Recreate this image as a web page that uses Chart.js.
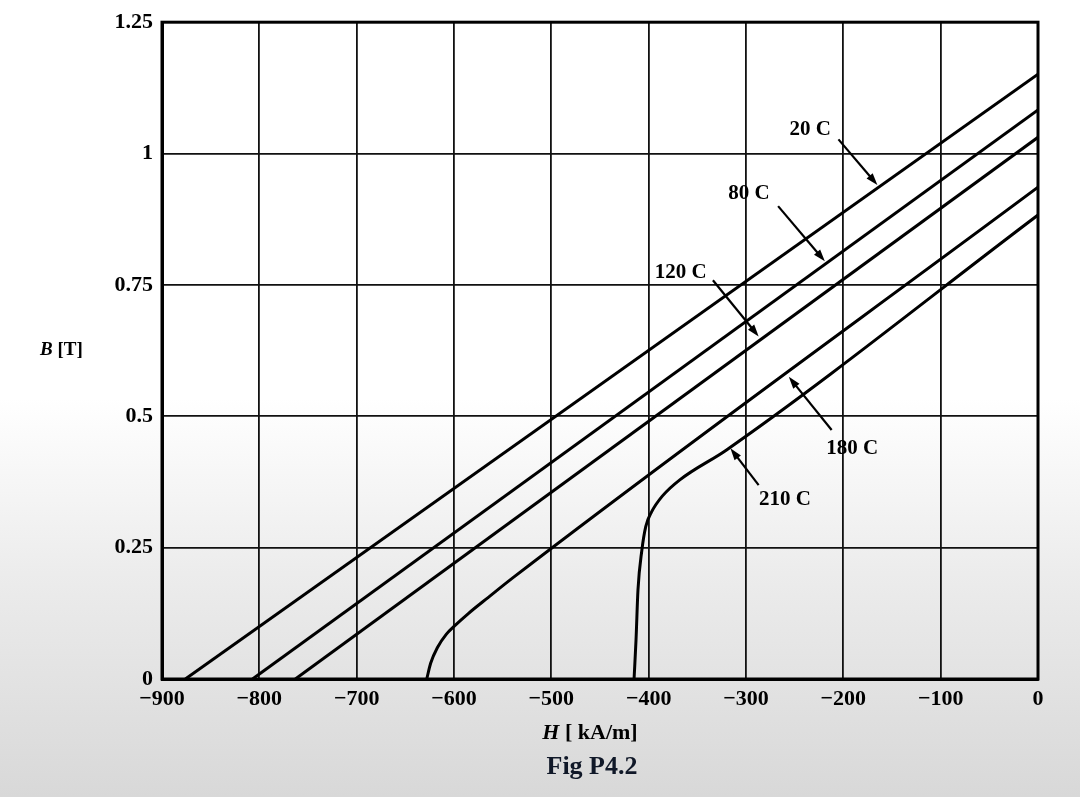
<!DOCTYPE html>
<html>
<head>
<meta charset="utf-8">
<script src="https://cdn.jsdelivr.net/npm/chart.js@4"></script>
<style>
  html, body { margin: 0; padding: 0; }
  body {
    width: 1080px; height: 797px; overflow: hidden;
    background: linear-gradient(to bottom, #ffffff 0%, #ffffff 50%, #ececec 72%, #d8d8d8 100%);
  }
  canvas { display: block; }
</style>
</head>
<body>
<canvas id="bh-chart" width="1080" height="797"></canvas>
<script>
// axis ticks
const xTicks = [-900, -800, -700, -600, -500, -400, -300, -200, -100, 0];
const xTickLabels = ['\u2212900', '\u2212800', '\u2212700', '\u2212600', '\u2212500', '\u2212400', '\u2212300', '\u2212200', '\u2212100', '0'];
const yTicks = [0, 0.25, 0.5, 0.75, 1, 1.25];
const yTickLabels = ['0', '0.25', '0.5', '0.75', '1', '1.25'];

// demagnetization curves, H in kA/m, B in T
const h20 = [-876, 0];
const b20 = [0, 1.151];
const h80 = [-807, 0];
const b80 = [0, 1.083];
const h120 = [-763, 0];
const b120 = [0, 1.031];
const h180 = [-628, -624, -617, -608, -600, -585, -565, -540, 0];
const b180 = [0, 0.03, 0.06, 0.085, 0.1, 0.125, 0.155, 0.192, 0.936];
const h210 = [-415, -413, -411, -407, -403, -397, -386, -368, -320, 0];
const b210 = [0, 0.074, 0.169, 0.245, 0.29, 0.318, 0.348, 0.379, 0.436, 0.883];

// curve labels and arrows (data coords)
const labelText = ['20 C', '80 C', '120 C', '180 C', '210 C'];
const labelH = [-234, -297, -367, -191, -260];
const labelB = [1.046, 0.923, 0.774, 0.438, 0.342];
const arrowFromH = [-205, -267, -334, -212, -287];
const arrowFromB = [1.027, 0.9, 0.759, 0.474, 0.369];
const arrowToH = [-165, -219, -287, -256, -316];
const arrowToB = [0.94, 0.795, 0.652, 0.575, 0.439];

const serif = '"Liberation Serif", "DejaVu Serif", serif';

function toPoints(hs, bs) {
  return hs.map((h, i) => ({ x: h, y: bs[i] }));
}

function curve(hs, bs, smooth) {
  return {
    data: toPoints(hs, bs),
    showLine: true,
    borderColor: '#000',
    borderWidth: 3,
    pointRadius: 0,
    cubicInterpolationMode: smooth ? 'monotone' : 'default',
    tension: 0,
  };
}

const extras = {
  id: 'extras',
  beforeDatasetsDraw(chart) {
    const { ctx, chartArea: a } = chart;
    ctx.save();
    ctx.strokeStyle = '#000';
    ctx.lineWidth = 3;
    ctx.strokeRect(a.left, a.top, a.right - a.left, a.bottom - a.top);
    ctx.restore();
  },
  afterDraw(chart) {
    const { ctx, chartArea: a, scales } = chart;
    const sx = scales.x, sy = scales.y;
    ctx.save();
    ctx.fillStyle = '#000';
    ctx.strokeStyle = '#000';

    // labels
    ctx.font = `bold 21px ${serif}`;
    ctx.textAlign = 'center';
    ctx.textBaseline = 'middle';
    labelText.forEach((t, i) => {
      ctx.fillText(t, sx.getPixelForValue(labelH[i]), sy.getPixelForValue(labelB[i]));
    });

    // arrows
    ctx.lineWidth = 2.2;
    labelText.forEach((t, i) => {
      const x0 = sx.getPixelForValue(arrowFromH[i]);
      const y0 = sy.getPixelForValue(arrowFromB[i]);
      const x1 = sx.getPixelForValue(arrowToH[i]);
      const y1 = sy.getPixelForValue(arrowToB[i]);
      const ang = Math.atan2(y1 - y0, x1 - x0);
      const len = 12, wid = 4;
      ctx.beginPath();
      ctx.moveTo(x0, y0);
      ctx.lineTo(x1 - Math.cos(ang) * len * 0.8, y1 - Math.sin(ang) * len * 0.8);
      ctx.stroke();
      ctx.beginPath();
      ctx.moveTo(x1, y1);
      ctx.lineTo(x1 - Math.cos(ang) * len - Math.sin(ang) * wid, y1 - Math.sin(ang) * len + Math.cos(ang) * wid);
      ctx.lineTo(x1 - Math.cos(ang) * len + Math.sin(ang) * wid, y1 - Math.sin(ang) * len - Math.cos(ang) * wid);
      ctx.closePath();
      ctx.fill();
    });

    // y title: B [T]
    ctx.textAlign = 'left';
    let x = 40, y = sy.getPixelForValue(0.626);
    ctx.font = `italic bold 19px ${serif}`;
    ctx.fillText('B', x, y);
    x += ctx.measureText('B').width;
    ctx.font = `bold 19px ${serif}`;
    ctx.fillText(' [T]', x, y);

    // x title: H [ kA/m]
    const cx = (a.left + a.right) / 2 - 10;
    ctx.font = `italic bold 22px ${serif}`;
    const wH = ctx.measureText('H').width;
    ctx.font = `bold 22px ${serif}`;
    const wRest = ctx.measureText(' [ kA/m]').width;
    x = cx - (wH + wRest) / 2;
    y = a.bottom + 54;
    ctx.font = `italic bold 22px ${serif}`;
    ctx.fillText('H', x, y);
    ctx.font = `bold 22px ${serif}`;
    ctx.fillText(' [ kA/m]', x + wH, y);

    // figure caption
    ctx.textAlign = 'center';
    ctx.fillStyle = '#101828';
    ctx.font = `bold 26px ${serif}`;
    ctx.fillText('Fig P4.2', cx + 2, a.bottom + 88);
    ctx.restore();
  },
};

const tickFont = { family: serif, size: 22, weight: 'bold' };

new Chart(document.getElementById('bh-chart'), {
  type: 'scatter',
  data: {
    datasets: [
      curve(h20, b20, false),
      curve(h80, b80, false),
      curve(h120, b120, false),
      curve(h180, b180, true),
      curve(h210, b210, true),
    ],
  },
  options: {
    responsive: false,
    animation: false,
    layout: { padding: { top: 22, right: 42, left: 0, bottom: 0 } },
    plugins: { legend: { display: false }, tooltip: { enabled: false } },
    scales: {
      x: {
        type: 'linear',
        min: -900,
        max: 0,
        afterFit(s) { s.height = 118; },
        afterBuildTicks(s) { s.ticks = xTicks.map((v) => ({ value: v })); },
        ticks: {
          callback: (v) => xTickLabels[xTicks.indexOf(v)],
          font: tickFont,
          color: '#000',
          padding: 7,
          maxRotation: 0,
          autoSkip: false,
        },
        grid: { color: '#111', lineWidth: 1.8, drawTicks: false },
        border: { color: '#000', width: 3 },
      },
      y: {
        type: 'linear',
        min: 0,
        max: 1.25,
        afterFit(s) { s.width = 162; },
        afterBuildTicks(s) { s.ticks = yTicks.map((v) => ({ value: v })); },
        ticks: {
          callback: (v) => yTickLabels[yTicks.indexOf(v)],
          font: tickFont,
          color: '#000',
          padding: 9,
          autoSkip: false,
        },
        grid: { color: '#111', lineWidth: 1.8, drawTicks: false },
        border: { color: '#000', width: 3 },
      },
    },
  },
  plugins: [extras],
});
</script>
</body>
</html>
